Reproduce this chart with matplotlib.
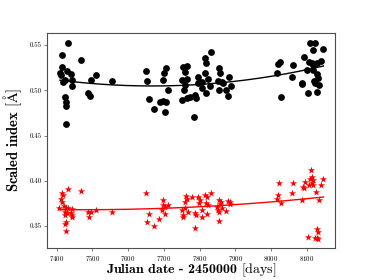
import matplotlib
matplotlib.use("Agg")
import matplotlib.pyplot as plt
import numpy as np

plt.rcParams['font.family'] = 'serif'
plt.rcParams['font.serif'] = ['cmr10']
plt.rcParams['mathtext.fontset'] = 'cm'
plt.rcParams['axes.formatter.use_mathtext'] = True

# black index (circles)
jd_k = [7430.8, 7415.7, 7415.7, 7428.0, 7409.2, 7411.2, 7440.0, 7423.2, 7442.0, 7416.8,
        7443.7, 7468.0, 7509.2, 7495.2, 7488.5, 7493.3, 7423.2, 7425.2, 7425.2, 7425.2,
        7554.0, 7650.0, 7652.0, 7658.5, 7672.5, 7689.3, 7697.0, 7706.0, 7705.3, 7700.5,
        7698.6, 7712.6, 7703.4, 7754.6, 7764.0, 7759.4, 7750.1, 7764.0, 7759.4, 7756.6,
        7750.1, 7764.0, 7773.4, 7787.4, 7790.2, 7796.6, 7796.6, 7784.6, 7815.4, 7818.2,
        7832.2, 7815.4, 7824.6, 7806.1, 7806.1, 7818.2, 7829.4, 7855.4, 7857.4, 7851.0,
        7862.2, 7865.0, 7854.6, 7874.2, 7883.5, 7887.4, 7879.0, 8025.5, 8020.7, 8016.2,
        8027.4, 8062.7, 8058.2, 8086.2, 8087.9, 8093.5, 8103.0, 8109.5, 8123.5, 8117.0,
        8107.5, 8114.3, 8118.8, 8102.0, 8117.0, 8130.0, 8128.3, 8131.0, 8120.7, 8123.5,
        8135.5, 8128.3, 8139.5, 8146.7]
idx_k = [0.5519, 0.5390, 0.5260, 0.5216, 0.5194, 0.5168, 0.5176, 0.5113, 0.5113, 0.5088,
         0.5047, 0.5334, 0.5168, 0.5113, 0.4966, 0.4936, 0.4929, 0.4873, 0.4826, 0.4627,
         0.5102, 0.5216, 0.5106, 0.4903, 0.4789, 0.4873, 0.4884, 0.4873, 0.5243, 0.5187,
         0.5113, 0.5003, 0.4763, 0.5260, 0.5268, 0.5205, 0.5113, 0.5121, 0.5058, 0.5003,
         0.4892, 0.4911, 0.4929, 0.4948, 0.4911, 0.5150, 0.5077, 0.4701, 0.5353, 0.5298,
         0.5419, 0.5187, 0.5124, 0.5094, 0.5022, 0.4973, 0.5047, 0.5249, 0.5187, 0.5106,
         0.5094, 0.5077, 0.5003, 0.5003, 0.5143, 0.5047, 0.4936, 0.5315, 0.5287, 0.5194,
         0.4929, 0.5279, 0.5143, 0.5083, 0.5066, 0.5371, 0.4966, 0.5520, 0.5519, 0.5445,
         0.5315, 0.5298, 0.5279, 0.5224, 0.5224, 0.5298, 0.5176, 0.5132, 0.5106, 0.5083,
         0.5058, 0.4984, 0.5326, 0.5452]

# red index (stars)
jd_r = [7411.2, 7414.0, 7415.7, 7416.8, 7407.3, 7420.4, 7431.6, 7426.0, 7432.5, 7442.0,
        7423.2, 7428.0, 7423.2, 7440.0, 7443.7, 7442.0, 7426.0, 7423.2, 7425.2, 7468.0,
        7488.5, 7495.2, 7491.3, 7509.2, 7555.7, 7650.0, 7658.5, 7653.8, 7673.4, 7687.4,
        7698.6, 7698.6, 7703.4, 7712.6, 7695.8, 7703.4, 7762.2, 7764.0, 7759.4, 7750.1,
        7759.4, 7754.6, 7754.6, 7778.1, 7768.6, 7787.4, 7790.2, 7787.4, 7796.6, 7801.4,
        7798.6, 7806.1, 7807.8, 7815.4, 7820.2, 7818.2, 7824.6, 7821.8, 7832.2, 7855.4,
        7859.4, 7857.4, 7849.9, 7862.2, 7852.6, 7855.4, 7854.6, 7874.2, 7879.0, 7885.4,
        7885.4, 8023.5, 8019.0, 8016.2, 8027.4, 8062.7, 8058.2, 8087.9, 8090.7, 8092.6,
        8095.4, 8112.3, 8109.5, 8116.0, 8118.8, 8114.3, 8118.8, 8107.5, 8125.5, 8139.5,
        8146.7, 8134.7, 8103.0, 8123.5, 8128.3, 8131.0, 8128.3, 8132.8]
idx_r = [0.3795, 0.3768, 0.3861, 0.3842, 0.3696, 0.3721, 0.3909, 0.3702, 0.3696, 0.3684,
         0.3658, 0.3640, 0.3622, 0.3647, 0.3622, 0.3603, 0.3541, 0.3522, 0.3445, 0.3890,
         0.3658, 0.3658, 0.3596, 0.3677, 0.3651, 0.3868, 0.3629, 0.3541, 0.3500, 0.3581,
         0.3787, 0.3732, 0.3713, 0.3732, 0.3677, 0.3633, 0.3831, 0.3795, 0.3768, 0.3677,
         0.3696, 0.3622, 0.3603, 0.3817, 0.3658, 0.3647, 0.3622, 0.3475, 0.3817, 0.3787,
         0.3751, 0.3677, 0.3596, 0.3842, 0.3817, 0.3751, 0.3732, 0.3629, 0.3861, 0.3787,
         0.3768, 0.3740, 0.3713, 0.3696, 0.3677, 0.3658, 0.3559, 0.3669, 0.3780, 0.3762,
         0.3740, 0.3972, 0.3843, 0.3795, 0.3757, 0.3979, 0.3861, 0.3787, 0.3934, 0.3917,
         0.3990, 0.4119, 0.4016, 0.4038, 0.4008, 0.3972, 0.3953, 0.3953, 0.3879, 0.3953,
         0.4016, 0.3787, 0.3375, 0.3364, 0.3364, 0.3356, 0.3463, 0.3437]

fig = plt.figure(figsize=(3.74, 2.8), dpi=100)
ax = fig.add_axes([0.1265, 0.1132, 0.7692, 0.77])

ax.scatter(jd_k, idx_k, s=24, c='k', marker='o', linewidths=0, zorder=3)
ax.scatter(jd_r, idx_r, s=30, c='r', marker='*', linewidths=0, zorder=3)

# polynomial fits
for x, y, col, deg in [(jd_k, idx_k, 'k', 2), (jd_r, idx_r, 'r', 2)]:
    p = np.polyfit(x, y, deg)
    xx = np.linspace(min(x), max(x), 200)
    ax.plot(xx, np.polyval(p, xx), color=col, lw=1.0, zorder=2)

ax.set_xlim(7374, 8179)
ax.set_ylim(0.3254, 0.5636)
ax.set_xticks([7400, 7500, 7600, 7700, 7800, 7900, 8000, 8100])
ax.set_yticks([0.35, 0.40, 0.45, 0.50, 0.55])
ax.set_yticklabels(['0.35', '0.40', '0.45', '0.50', '0.55'])
ax.tick_params(labelsize=5, length=2.5, width=0.6, color='0.4', pad=1.5)
for sp in ax.spines.values():
    sp.set_color('0.3')
    sp.set_linewidth(0.8)

ax.set_xlabel(r'Julian date - 2450000 $\mathrm{[days]}$', family='cmb10', fontsize=10, labelpad=-1)
ax.set_ylabel(r'Scaled index $\mathrm{[\AA]}$', family='cmb10', fontsize=10.5, labelpad=4)

fig.savefig('out.png', dpi=100)
